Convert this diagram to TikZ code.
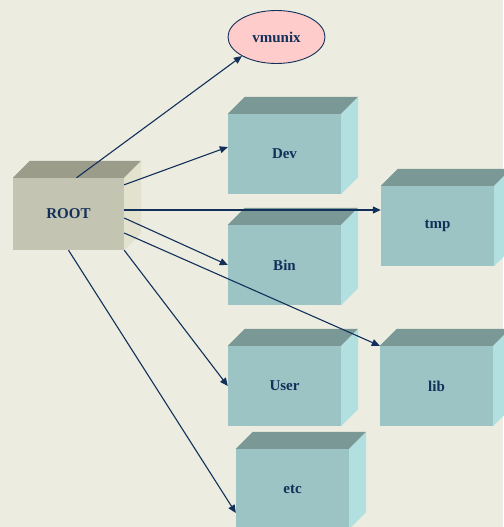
\documentclass[tikz,border=0pt]{standalone}
\usepackage{fontspec}
\setmainfont{Liberation Serif}
\usetikzlibrary{arrows.meta,shapes.geometric}
\definecolor{bgcol}{HTML}{ECECE0}
\definecolor{navy}{HTML}{12305A}
\definecolor{rootfront}{HTML}{C4C4B2}
\definecolor{roottop}{HTML}{9C9C8A}
\definecolor{rootside}{HTML}{E2E2CF}
\definecolor{dirfront}{HTML}{9CC4C4}
\definecolor{dirtop}{HTML}{7A9996}
\definecolor{dirside}{HTML}{B2E0E0}
\definecolor{filecol}{HTML}{FFCCCC}
\tikzset{
  dirbox/.style={rectangle, fill=dirfront, inner sep=0pt, minimum width=113pt, minimum height=80pt, text=navy, font=\bfseries\fontsize{15}{18}\selectfont},
  link/.style={draw=navy, line width=1.1pt, -{Triangle[length=8pt,width=7pt]}}
}
\begin{document}
\begin{tikzpicture}[x=1pt,y=-1pt]
\fill[bgcol] (0,0) rectangle (503,527);
\useasboundingbox (0,0) rectangle (503,527);

\node[dirbox, fill=rootfront, minimum width=111pt, minimum height=72pt] (root) at (68.5,214) {ROOT};
\node[ellipse, draw=navy, line width=0.9pt, fill=filecol, inner sep=0pt, minimum width=97pt, minimum height=53pt, text=navy, font=\bfseries\fontsize{15}{18}\selectfont] (vmunix) at (276.5,37) {vmunix};
\node[dirbox] (dev) at (284.5,154) {Dev};
\node[dirbox] (tmp) at (437.5,226) {tmp};
\node[dirbox] (bin) at (284.5,265) {Bin};
\node[dirbox] (user) at (284.5,386) {User};
\node[dirbox] (lib) at (436.5,386) {lib};
\node[dirbox] (etc) at (292.5,489) {etc};

% top and side faces
\foreach \n/\tc/\sc in {root/roottop/rootside, dev/dirtop/dirside, tmp/dirtop/dirside, bin/dirtop/dirside, user/dirtop/dirside, lib/dirtop/dirside, etc/dirtop/dirside} {
  \fill[\tc] (\n.north west) -- ++(17,-17) -- ([shift={(17,-17)}]\n.north east) -- (\n.north east) -- cycle;
  \fill[\sc] (\n.north east) -- ++(17,-17) -- ([shift={(17,-17)}]\n.south east) -- (\n.south east) -- cycle;
}

\path[link] ([xshift=8pt]root.north) -- (vmunix.south west);
\path[link] ([yshift=-7pt]root.north east) -- ([yshift=7pt]dev.west);
\path[link] ([yshift=4pt]root.east) -- ([yshift=16pt]tmp.west);
\path[link] ([yshift=-4pt]root.east) -- (bin.west);
\path[link] ([yshift=-19pt]root.east) -- (lib.north west);
\path[link] (root.south east) -- (user.west);
\path[link] (root.south) -- ([yshift=-24pt]etc.west);
\end{tikzpicture}
\end{document}
